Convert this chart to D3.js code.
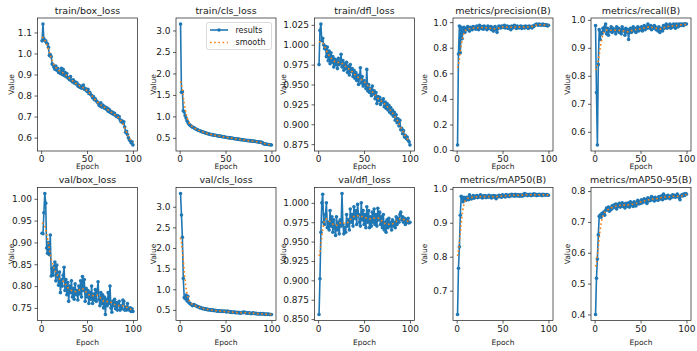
<!DOCTYPE html>
<html><head><meta charset="utf-8">
<script src="https://cdn.jsdelivr.net/npm/d3@7"></script>
<style>
body{margin:0;background:#fff}
svg{display:block}
text{font-family:"DejaVu Sans",sans-serif;fill:#1a1a1a}
</style>
</head><body>
<svg id="chart" width="697" height="351"></svg>
<script>
// ---------------- data ----------------
const epochs = d3.range(1, 101);
const titles = ["train/box_loss","train/cls_loss","train/dfl_loss","metrics/precision(B)","metrics/recall(B)",
                "val/box_loss","val/cls_loss","val/dfl_loss","metrics/mAP50(B)","metrics/mAP50-95(B)"];
const legendLabels = ["results","smooth"];
const xTickLabels = ["0","50","100"];

const trainBoxLoss = [1.06,1.14,1.07,1.06,1.06,1.05,1.045,1.03,0.99,0.995,0.985,0.95,0.945,0.935,0.925,0.94,0.92,0.93,0.91,0.915,
0.905,0.93,0.90,0.925,0.895,0.91,0.89,0.905,0.885,0.88,0.875,0.89,0.87,0.865,0.875,0.86,0.865,0.855,0.86,0.845,
0.85,0.84,0.845,0.835,0.84,0.85,0.83,0.835,0.825,0.82,0.83,0.81,0.815,0.805,0.80,0.79,0.795,0.78,0.785,0.775,
0.77,0.765,0.755,0.75,0.765,0.745,0.755,0.75,0.74,0.745,0.735,0.74,0.725,0.735,0.72,0.725,0.715,0.72,0.71,0.715,
0.705,0.70,0.705,0.695,0.70,0.685,0.675,0.68,0.67,0.675,0.65,0.625,0.63,0.615,0.60,0.59,0.585,0.575,0.58,0.565];
const trainClsLoss = [3.15,1.56,1.58,1.13,1.10,1.02,0.96,0.90,0.86,0.82,0.80,0.78,0.77,0.75,0.74,0.73,0.715,0.70,0.695,0.68,
0.67,0.665,0.655,0.645,0.64,0.63,0.625,0.615,0.61,0.60,0.595,0.59,0.585,0.58,0.575,0.57,0.565,0.56,0.56,0.555,
0.55,0.545,0.54,0.54,0.535,0.53,0.525,0.525,0.52,0.515,0.51,0.51,0.505,0.50,0.50,0.495,0.49,0.49,0.485,0.48,
0.48,0.475,0.47,0.47,0.465,0.46,0.46,0.455,0.455,0.45,0.445,0.445,0.44,0.44,0.435,0.435,0.43,0.43,0.425,0.425,
0.42,0.42,0.415,0.41,0.41,0.405,0.40,0.40,0.395,0.39,0.37,0.36,0.355,0.35,0.35,0.345,0.345,0.34,0.34,0.335];
const trainDflLoss = [0.975,1.018,1.026,1.005,1.008,1.000,0.995,0.998,0.985,0.997,0.980,0.992,0.976,0.990,0.978,0.985,0.972,0.982,0.975,0.980,
0.970,0.983,0.975,0.978,0.988,0.972,0.980,0.968,0.976,0.970,0.978,0.965,0.973,0.962,0.975,0.966,0.970,0.960,0.968,0.958,
0.965,0.955,0.962,0.950,0.958,0.971,0.952,0.960,0.948,0.955,0.950,0.945,0.969,0.942,0.950,0.940,0.945,0.936,0.948,0.938,
0.942,0.932,0.940,0.926,0.935,0.930,0.934,0.925,0.930,0.928,0.932,0.922,0.928,0.920,0.926,0.918,0.924,0.915,0.921,0.913,
0.918,0.910,0.915,0.905,0.912,0.902,0.907,0.898,0.905,0.893,0.895,0.888,0.892,0.884,0.886,0.882,0.884,0.880,0.878,0.874];
const precision = [0.04,0.75,0.97,0.76,0.96,0.87,0.94,0.96,0.92,0.95,0.94,0.965,0.95,0.93,0.96,0.955,0.94,0.965,0.95,0.96,
0.945,0.97,0.955,0.94,0.975,0.96,0.95,0.965,0.945,0.97,0.955,0.96,0.94,0.97,0.955,0.95,0.965,0.94,0.96,0.93,
0.955,0.965,0.94,0.92,0.95,0.97,0.96,0.955,0.97,0.965,0.96,0.975,0.955,0.96,0.97,0.95,0.965,0.96,0.94,0.97,
0.955,0.965,0.975,0.96,0.95,0.97,0.96,0.955,0.965,0.97,0.95,0.96,0.965,0.955,0.97,0.96,0.965,0.95,0.97,0.96,
0.965,0.955,0.97,0.965,0.975,0.98,0.985,0.98,0.975,0.985,0.98,0.975,0.98,0.985,0.975,0.98,0.975,0.98,0.97,0.975];
const recall = [0.98,0.74,0.553,0.84,0.965,0.93,0.955,0.95,0.97,0.96,0.975,0.985,0.95,0.97,0.945,0.965,0.96,0.975,0.955,0.97,
0.96,0.965,0.95,0.975,0.96,0.97,0.955,0.965,0.95,0.975,0.96,0.965,0.945,0.97,0.955,0.965,0.93,0.96,0.97,0.955,
0.965,0.975,0.96,0.97,0.955,0.965,0.975,0.96,0.97,0.965,0.975,0.96,0.97,0.98,0.965,0.975,0.97,0.985,0.975,0.97,
0.98,0.965,0.975,0.97,0.98,0.975,0.965,0.97,0.96,0.975,0.955,0.965,0.97,0.96,0.98,0.97,0.975,0.985,0.97,0.98,
0.975,0.985,0.97,0.98,0.975,0.985,0.98,0.97,0.985,0.98,0.975,0.985,0.98,0.985,0.98,0.985,0.98,0.985,0.985,0.985];
const valBoxLoss = [0.921,0.920,0.968,1.012,0.990,0.887,0.875,0.900,0.872,0.917,0.823,0.840,0.825,0.845,0.855,0.812,0.848,0.822,0.802,0.832,
0.785,0.815,0.800,0.825,0.843,0.790,0.815,0.780,0.808,0.765,0.800,0.785,0.812,0.775,0.795,0.770,0.805,0.780,0.790,0.768,
0.800,0.782,0.812,0.775,0.822,0.790,0.815,0.765,0.795,0.775,0.790,0.760,0.785,0.770,0.800,0.760,0.782,0.768,0.792,0.765,
0.788,0.810,0.770,0.755,0.785,0.760,0.780,0.750,0.775,0.735,0.770,0.755,0.785,0.760,0.800,0.750,0.740,0.765,0.755,0.770,
0.748,0.762,0.745,0.758,0.765,0.745,0.755,0.748,0.768,0.765,0.745,0.752,0.745,0.760,0.748,0.745,0.750,0.742,0.748,0.742];
const valClsLoss = [3.32,2.80,2.26,1.26,0.80,0.77,0.86,0.72,0.83,0.68,0.66,0.64,0.63,0.60,0.63,0.62,0.61,0.60,0.58,0.58,
0.57,0.55,0.56,0.54,0.53,0.54,0.52,0.53,0.51,0.52,0.50,0.51,0.50,0.50,0.49,0.50,0.49,0.48,0.49,0.48,
0.47,0.48,0.47,0.48,0.47,0.46,0.47,0.46,0.47,0.46,0.45,0.47,0.46,0.45,0.46,0.44,0.45,0.44,0.45,0.44,
0.43,0.44,0.43,0.44,0.43,0.42,0.43,0.44,0.43,0.45,0.44,0.43,0.42,0.43,0.42,0.43,0.42,0.41,0.42,0.43,
0.42,0.41,0.42,0.41,0.40,0.41,0.40,0.41,0.40,0.40,0.41,0.40,0.39,0.40,0.40,0.39,0.40,0.39,0.39,0.39];
const valDflLoss = [0.856,0.902,0.962,1.000,1.011,0.975,0.972,0.985,1.000,0.968,0.975,0.965,0.990,0.970,0.982,0.962,0.978,0.968,0.958,0.982,
0.965,0.975,0.960,0.978,0.970,1.012,0.972,0.960,0.968,0.962,0.985,0.970,0.978,0.965,0.992,0.975,0.985,0.970,0.995,0.980,
0.990,0.972,0.998,0.985,0.975,0.970,1.000,0.978,0.990,0.972,0.985,0.968,0.995,0.975,0.990,0.968,0.982,0.970,0.988,0.975,
0.992,0.972,0.985,0.970,0.993,0.978,0.988,0.972,0.982,0.968,0.985,0.965,0.975,0.962,0.978,0.968,0.980,0.970,0.975,0.965,
0.978,0.970,0.975,0.968,0.982,0.972,0.980,0.975,0.985,0.988,0.978,0.982,0.975,0.980,0.972,0.978,0.975,0.980,0.974,0.975];
const mAP50 = [0.630,0.766,0.829,0.922,0.978,0.972,0.962,0.975,0.968,0.966,0.975,0.972,0.968,0.982,0.975,0.970,0.976,0.980,0.972,0.978,
0.975,0.980,0.974,0.978,0.976,0.982,0.975,0.973,0.979,0.976,0.980,0.974,0.978,0.975,0.981,0.976,0.979,0.973,0.977,0.980,
0.975,0.979,0.971,0.978,0.976,0.981,0.977,0.980,0.975,0.982,0.978,0.980,0.976,0.983,0.979,0.981,0.977,0.982,0.979,0.984,
0.980,0.982,0.978,0.984,0.981,0.979,0.983,0.978,0.982,0.980,0.978,0.983,0.980,0.986,0.982,0.984,0.980,0.983,0.981,0.984,
0.980,0.983,0.981,0.985,0.982,0.984,0.980,0.983,0.981,0.984,0.982,0.983,0.980,0.984,0.982,0.983,0.981,0.983,0.982,0.981];
const mAP5095 = [0.400,0.517,0.580,0.658,0.718,0.722,0.715,0.728,0.725,0.732,0.722,0.738,0.745,0.740,0.748,0.735,0.745,0.740,0.752,0.745,
0.755,0.748,0.758,0.742,0.756,0.750,0.760,0.748,0.755,0.762,0.750,0.758,0.745,0.760,0.755,0.750,0.762,0.748,0.765,0.755,
0.760,0.750,0.765,0.756,0.752,0.762,0.770,0.758,0.765,0.760,0.772,0.762,0.768,0.775,0.765,0.772,0.760,0.778,0.768,0.775,
0.770,0.782,0.772,0.778,0.768,0.780,0.772,0.776,0.770,0.782,0.774,0.778,0.785,0.772,0.790,0.780,0.776,0.784,0.778,0.786,
0.780,0.775,0.784,0.780,0.788,0.782,0.786,0.780,0.785,0.790,0.784,0.778,0.772,0.785,0.788,0.784,0.790,0.786,0.792,0.790];

const yTickLabels = [
  ["0.6","0.7","0.8","0.9","1.0","1.1"],
  ["0.5","1.0","1.5","2.0","2.5","3.0"],
  ["0.875","0.900","0.925","0.950","0.975","1.000","1.025"],
  ["0.0","0.2","0.4","0.6","0.8","1.0"],
  ["0.6","0.7","0.8","0.9","1.0"],
  ["0.75","0.80","0.85","0.90","0.95","1.00"],
  ["0.5","1.0","1.5","2.0","2.5","3.0"],
  ["0.850","0.875","0.900","0.925","0.950","0.975","1.000"],
  ["0.7","0.8","0.9","1.0"],
  ["0.4","0.5","0.6","0.7","0.8"]
];
const seriesList = [trainBoxLoss,trainClsLoss,trainDflLoss,precision,recall,valBoxLoss,valClsLoss,valDflLoss,mAP50,mAP5095];

// ---------------- layout ----------------
const colLeft = [37.5, 176, 314.5, 453, 591];
const axW = 100;
const rowTop = [18, 187.5];
const axH = 133;
const yLabelOffset = [26.5, 23, 31.5, 28.5, 24];
const xLabelOffset = [17.5, 24.5];
const blue = "#1f77b4", orange = "#ff7f0e";

function gaussianSmooth(y, sigma) {
  const r = Math.floor(4 * sigma + 0.5);
  const w = d3.range(-r, r + 1).map(k => Math.exp(-0.5 * k * k / (sigma * sigma)));
  const s = d3.sum(w);
  const n = y.length;
  return y.map((_, i) => {
    let acc = 0;
    for (let k = -r; k <= r; k++) {
      let j = i + k;
      if (j < 0) j = -j - 1;
      if (j >= n) j = 2 * n - j - 1;
      acc += w[k + r] * y[j];
    }
    return acc / s;
  });
}

const svg = d3.select("#chart");

seriesList.forEach((vals, idx) => {
  const row = Math.floor(idx / 5), col = idx % 5;
  const L = colLeft[col], T = rowTop[row], B = T + axH, R = L + axW;
  const smooth = gaussianSmooth(vals, 3);
  const all = vals.concat(smooth);
  const mn = d3.min(all), mx = d3.max(all), rg = mx - mn;
  const x = d3.scaleLinear().domain([1 - 0.05 * 99, 100 + 0.05 * 99]).range([L, R]);
  const y = d3.scaleLinear().domain([mn - 0.05 * rg, mx + 0.05 * rg]).range([B, T]);
  const g = svg.append("g");

  // axes
  const tv = yTickLabels[idx].map(Number);
  const ya = g.append("g").attr("transform", `translate(${L},0)`)
    .call(d3.axisLeft(y).tickValues(tv).tickFormat((d, i) => yTickLabels[idx][i]).tickSize(3).tickPadding(2.5).tickSizeOuter(0));
  const xa = g.append("g").attr("transform", `translate(0,${B})`)
    .call(d3.axisBottom(x).tickValues(xTickLabels.map(Number)).tickFormat((d, i) => xTickLabels[i]).tickSize(3).tickPadding(2).tickSizeOuter(0));
  [ya, xa].forEach(a => {
    a.attr("font-family", null).attr("font-size", null);
    a.select(".domain").remove();
    a.selectAll(".tick line").attr("stroke", "#1a1a1a").attr("stroke-width", 0.7);
    a.selectAll(".tick text").style("font-size", "9px").attr("fill", "#1a1a1a");
  });

  // lines
  const line = d3.line().x((d, i) => x(epochs[i])).y(d => y(d));
  g.append("path").datum(vals).attr("d", line).attr("fill", "none")
    .attr("stroke", blue).attr("stroke-width", 1.6).attr("stroke-linejoin", "round");
  g.selectAll("circle.pt").data(vals).join("circle").attr("class", "pt")
    .attr("cx", (d, i) => x(epochs[i])).attr("cy", d => y(d)).attr("r", 1.8).attr("fill", blue);
  g.append("path").datum(smooth).attr("d", line).attr("fill", "none")
    .attr("stroke", orange).attr("stroke-width", 1.6).attr("stroke-dasharray", "1.6,2.6");

  // frame
  g.append("rect").attr("x", L).attr("y", T).attr("width", axW).attr("height", axH)
    .attr("fill", "none").attr("stroke", "#1a1a1a").attr("stroke-width", 0.7);

  // labels
  g.append("text").attr("x", (L + R) / 2).attr("y", T - 4.5).attr("text-anchor", "middle")
    .style("font-size", "9.5px").text(titles[idx]);
  g.append("text").attr("x", (L + R) / 2).attr("y", B + xLabelOffset[row]).attr("text-anchor", "middle")
    .style("font-size", "7.5px").text("Epoch");
  g.append("text").attr("transform", `translate(${L - yLabelOffset[col]},${(T + B) / 2}) rotate(-90)`)
    .attr("text-anchor", "middle").attr("dominant-baseline", "central")
    .style("font-size", "7.5px").text("Value");

  // legend on second panel
  if (idx === 1) {
    const lx = 206.5, ly = 22.5;
    const lg = g.append("g");
    lg.append("rect").attr("x", lx).attr("y", ly).attr("width", 65).attr("height", 27).attr("rx", 2)
      .attr("fill", "#fff").attr("fill-opacity", 0.8).attr("stroke", "#cccccc").attr("stroke-width", 0.7);
    lg.append("line").attr("x1", lx + 3.5).attr("x2", lx + 21.5).attr("y1", ly + 7.5).attr("y2", ly + 7.5)
      .attr("stroke", blue).attr("stroke-width", 1.6);
    lg.append("circle").attr("cx", lx + 12.5).attr("cy", ly + 7.5).attr("r", 1.8).attr("fill", blue);
    lg.append("line").attr("x1", lx + 3.5).attr("x2", lx + 21.5).attr("y1", ly + 20).attr("y2", ly + 20)
      .attr("stroke", orange).attr("stroke-width", 1.6).attr("stroke-dasharray", "1.6,2.6");
    legendLabels.forEach((t, i) => {
      lg.append("text").attr("x", lx + 29).attr("y", ly + 7.5 + i * 12.5).attr("dominant-baseline", "central")
        .style("font-size", "8px").text(t);
    });
  }
});
</script>
</body></html>
